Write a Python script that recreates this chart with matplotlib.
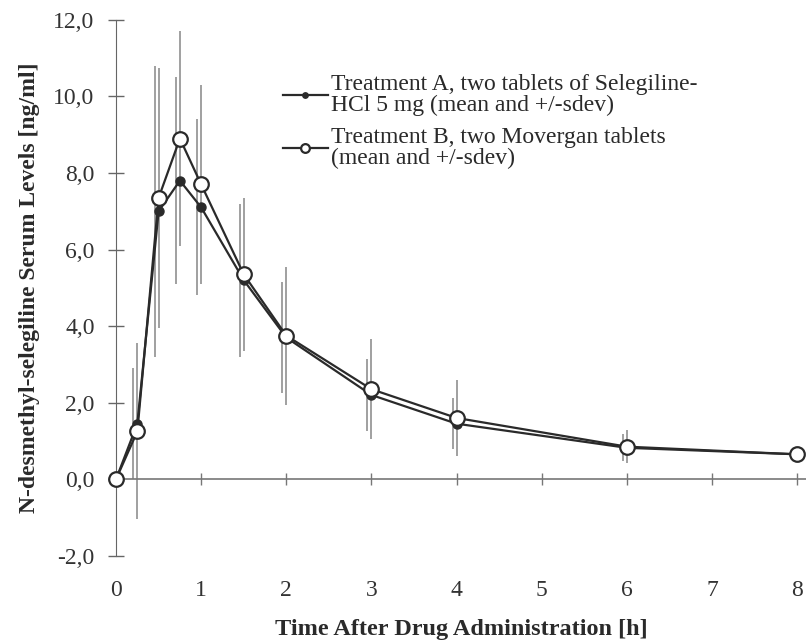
import matplotlib
matplotlib.use("Agg")
from matplotlib import pyplot as plt
import matplotlib.transforms as mtransforms

# time points [h]
time_h = [0, 0.25, 0.5, 0.75, 1, 1.5, 2, 3, 4, 6, 8]

# Treatment A (Selegiline-HCl), mean and sdev
mean_a = [0.0, 1.45, 7.0, 7.8, 7.1, 5.2, 3.7, 2.2, 1.45, 0.82, 0.65]
sdev_a = [0.0, 1.45, 3.8, 2.7, 2.3, 2.0, 1.45, 0.95, 0.67, 0.35, 0.15]

# Treatment B (Movergan), mean and sdev
mean_b = [0.0, 1.25, 7.35, 8.9, 7.7, 5.35, 3.75, 2.35, 1.6, 0.85, 0.65]
sdev_b = [0.0, 2.3, 3.4, 2.8, 2.6, 2.0, 1.8, 1.3, 1.0, 0.43, 0.2]

label_a = "Treatment A, two tablets of Selegiline-\nHCl 5 mg (mean and +/-sdev)"
label_b = "Treatment B, two Movergan tablets\n(mean and +/-sdev)"

yticks = [-2, 0, 2, 4, 6, 8, 10, 12]
xticks = [0, 1, 2, 3, 4, 5, 6, 7, 8]

plt.rcParams["font.family"] = ["Liberation Serif", "DejaVu Serif"]

fig = plt.figure(figsize=(8.06, 6.41), dpi=100)
ax = fig.add_axes([0.144, 0.133, 0.8555, 0.836])

# grey sdev bars, A shifted a little to the left
shift = mtransforms.ScaledTranslation(-4 / 100, 0, fig.dpi_scale_trans)
ax.errorbar(time_h, mean_a, yerr=sdev_a, fmt="none", ecolor="#a0a0a0",
            elinewidth=1.4, capsize=0, transform=ax.transData + shift, zorder=1)
ax.errorbar(time_h, mean_b, yerr=sdev_b, fmt="none", ecolor="#a0a0a0",
            elinewidth=1.4, capsize=0, zorder=1)

ax.plot(time_h, mean_a, color="#2a2a2a", lw=1.6, marker="o", ms=6.5,
        mfc="#2a2a2a", mec="#2a2a2a", label=label_a, clip_on=False, zorder=3)
ax.plot(time_h, mean_b, color="#2a2a2a", lw=1.6, marker="o", ms=10.5,
        mfc="white", mec="#2a2a2a", mew=1.6, label=label_b, clip_on=False, zorder=4)

ax.set_xlim(0, 8.1)
ax.set_ylim(-2, 12)

ax.spines["top"].set_visible(False)
ax.spines["right"].set_visible(False)
ax.spines["bottom"].set_position(("data", 0))
ax.spines["bottom"].set_color("#777777")
ax.spines["left"].set_color("#666666")
ax.spines["bottom"].set_linewidth(1.2)

ax.set_yticks(yticks)
ax.set_yticklabels([f"{v:.1f}".replace(".", ",") for v in yticks])
ax.set_xticks(xticks)
ax.set_xticklabels([str(v) for v in xticks])
ax.tick_params(axis="y", direction="inout", length=11, width=1, color="#666666",
               labelsize=17, labelcolor="#333333", pad=10)
ax.tick_params(axis="x", direction="inout", length=9, width=1, color="#777777",
               labelsize=17, labelcolor="#333333", pad=68)

ax.set_xlabel("Time After Drug Administration [h]", fontsize=17.5, fontweight="bold",
              color="#2a2a2a", labelpad=13)
ax.set_ylabel("N-desmethyl-selegiline Serum Levels [ng/ml]", fontsize=17,
              fontweight="bold", color="#2a2a2a")
ax.yaxis.set_label_coords(-0.11, 0.5)

leg = ax.legend(loc="upper left", bbox_to_anchor=(283 / 806, 1 - 74 / 641),
                bbox_transform=fig.transFigure, frameon=False, fontsize=17,
                handlelength=1.9, handletextpad=0.15, labelspacing=0.45,
                borderpad=0, borderaxespad=0, markerscale=0.6)
for t in leg.get_texts():
    t.set_color("#2a2a2a")
    t.set_linespacing(1.0)

fig.savefig("out.png", dpi=100)
